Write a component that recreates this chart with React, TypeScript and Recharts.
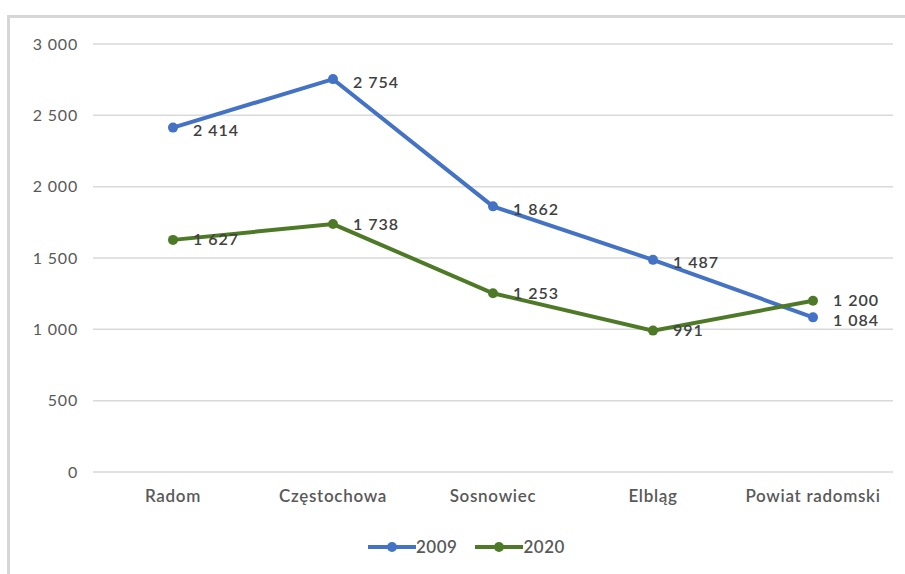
import React from "react";
import { CartesianGrid, LabelList, Line, LineChart, XAxis, YAxis } from "recharts";

const cities = ["Radom", "Częstochowa", "Sosnowiec", "Elbląg", "Powiat radomski"];
const values2009 = [2414, 2754, 1862, 1487, 1084];
const values2020 = [1627, 1738, 1253, 991, 1200];
const yTicks = [0, 500, 1000, 1500, 2000, 2500, 3000];
const seriesNames = ["2009", "2020"];

const BLUE = "#4472C4";
const GREEN = "#4E7A28";
const FONT = "Lato, 'Open Sans', sans-serif";

const data = cities.map((city, i) => ({ city, y2009: values2009[i], y2020: values2020[i] }));

// spacja jako separator tysięcy, jak w Excelu
const fmt = (v: number) => String(v).replace(/\B(?=(\d{3})+(?!\d))/g, " ");

function ValueLabel(props: any) {
  const { x, y, value, shift = 0 } = props;
  return (
    <text
      x={x + 20}
      y={y + shift}
      dominantBaseline="central"
      fontFamily={FONT}
      fontSize={16}
      fontWeight={600}
      letterSpacing={1}
      fill="#404040"
    >
      {fmt(value)}
    </text>
  );
}

function LegendBox() {
  const colors = [BLUE, GREEN];
  return (
    <div
      style={{
        position: "absolute",
        left: 368,
        top: 536,
        display: "flex",
        gap: 18,
        fontFamily: FONT,
      }}
    >
      {seriesNames.map((name, i) => (
        <div key={name} style={{ display: "flex", alignItems: "center" }}>
          <svg width={48} height={14}>
            <line x1={0} y1={7} x2={48} y2={7} stroke={colors[i]} strokeWidth={4} />
            <circle cx={24} cy={7} r={5} fill={colors[i]} />
          </svg>
          <span style={{ fontSize: 17, fontWeight: 600, color: "#595959", letterSpacing: 0.5 }}>{name}</span>
        </div>
      ))}
    </div>
  );
}

export default function App() {
  return (
    <div style={{ position: "fixed", left: 0, top: 0, width: 905, height: 574, background: "#fff" }}>
      <div
        style={{
          position: "absolute",
          left: 7,
          top: 15,
          width: 905,
          height: 574,
          borderTop: "3px solid #d6d6d6",
          borderLeft: "3px solid #d6d6d6",
          boxSizing: "border-box",
        }}
      />
      <div style={{ position: "absolute", left: 0, top: 0 }}>
        <LineChart width={905} height={574} data={data} margin={{ top: 44, right: 12, bottom: 0, left: 0 }}>
          <CartesianGrid vertical={false} stroke="#d9d9d9" strokeWidth={1.5} />
          <XAxis
            dataKey="city"
            axisLine={false}
            tickLine={false}
            tickSize={0}
            tickMargin={18}
            height={102}
            padding={{ left: 80, right: 80 }}
            tick={{ fontFamily: FONT, fontSize: 17, fontWeight: 600, fill: "#595959", letterSpacing: 0.7 }}
          />
          <YAxis
            domain={[0, 3000]}
            ticks={yTicks}
            width={93}
            axisLine={false}
            tickLine={false}
            tickSize={0}
            tickMargin={15}
            tickFormatter={fmt}
            tick={{ fontFamily: FONT, fontSize: 16, fill: "#595959", letterSpacing: 0.8 }}
          />
          <Line
            dataKey="y2009"
            name={seriesNames[0]}
            stroke={BLUE}
            strokeWidth={4}
            dot={{ r: 5, fill: BLUE, stroke: BLUE, strokeWidth: 0 }}
            isAnimationActive={false}
          >
            <LabelList dataKey="y2009" content={<ValueLabel shift={2} />} />
          </Line>
          <Line
            dataKey="y2020"
            name={seriesNames[1]}
            stroke={GREEN}
            strokeWidth={4}
            dot={{ r: 5, fill: GREEN, stroke: GREEN, strokeWidth: 0 }}
            isAnimationActive={false}
          >
            <LabelList dataKey="y2020" content={<ValueLabel shift={-1} />} />
          </Line>
        </LineChart>
      </div>
      <LegendBox />
    </div>
  );
}
